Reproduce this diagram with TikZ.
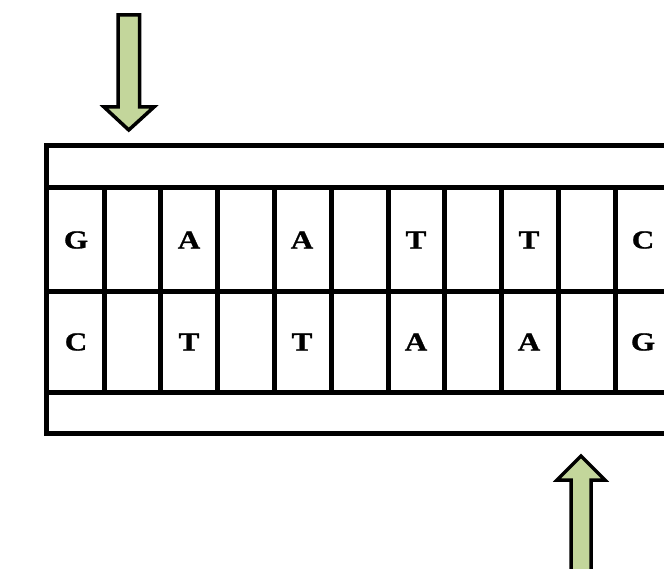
\documentclass[tikz,border=0pt]{standalone}
\usepackage{fontspec}
\setmainfont{Liberation Serif}
\newfontfamily\basefont[FakeStretch=1.2,FakeBold=1]{Liberation Serif}
\definecolor{arrowgreen}{HTML}{C3D69B}
\begin{document}
\begin{tikzpicture}
[x=1pt,y=-1pt,%
  linedecorate/.style={line width=5pt},%
  basedecorate/.style={font=\basefont\bfseries\fontsize{26}{26}\selectfont,inner sep=0pt},%
  arrowdecorate/.style={draw=black,line width=3.5pt,fill=arrowgreen,miter limit=20}]
\useasboundingbox (0,0) rectangle (664,569);
%% frame lines
\draw[linedecorate] (672,145.5) -- (46,145.5) -- (46,433.5) -- (672,433.5);
\foreach \y in {187.5, 292, 392} {
  \draw[linedecorate] (46,\y) -- (672,\y);
}
\foreach \i in {0,...,9} {
  \draw[linedecorate] (104+56.83*\i,187.5) -- (104+56.83*\i,392);
}
%% bases
\foreach \nodename/\x/\upper/\lower in {1/76/G/C, 2/189/A/T, 3/302/A/T,
  4/416/T/A, 5/529/T/A, 6/643/C/G} {
  \node (up\nodename) at (\x,240) [basedecorate] {\upper};
  \node (low\nodename) at (\x,342) [basedecorate] {\lower};
}
%% cut arrows
\draw[arrowdecorate] (118,15) -- (139.5,15) -- (139.5,107) -- (154,107)
  -- (128.75,130) -- (104,107) -- (118,107) -- cycle;
\draw[arrowdecorate] (571,575) -- (591,575) -- (591,480) -- (605,480)
  -- (581,456) -- (557,480) -- (571,480) -- cycle;
\end{tikzpicture}
\end{document}
